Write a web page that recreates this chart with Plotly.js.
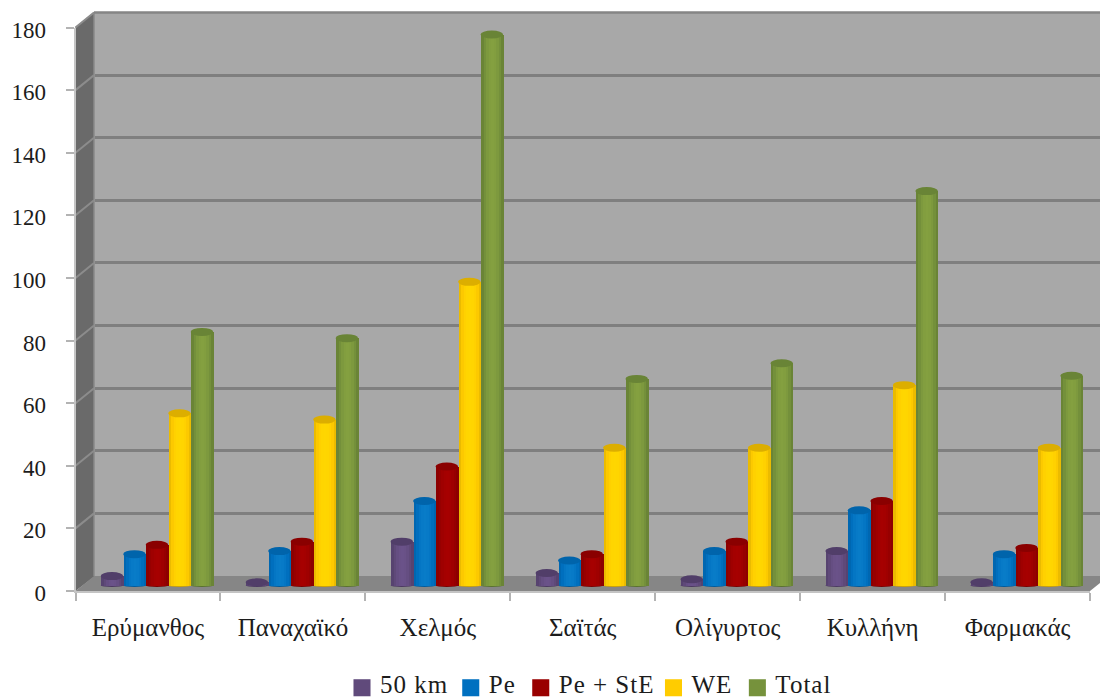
<!DOCTYPE html>
<html>
<head>
<meta charset="utf-8">
<script src="https://cdn.plot.ly/plotly-3.0.1.min.js"></script>
<style>
  html, body { margin: 0; padding: 0; background: #fff; }
  #chart { width: 1100px; height: 697px; }
  .legend .legendpoints path { transform: translate(22px, 5px) scale(1.42); }
  .legend text { letter-spacing: 1px; }
</style>
</head>
<body>
<div id="chart"></div>
<script>
// Mountains and the per-category counts
const mountains = ['Ερύμανθος', 'Παναχαϊκό', 'Χελμός', 'Σαϊτάς', 'Ολίγυρτος', 'Κυλλήνη', 'Φαρμακάς'];
const km50    = [3, 1, 14, 4, 2, 11, 1];
const pe      = [10, 11, 27, 8, 11, 24, 10];
const peSte   = [13, 14, 38, 10, 14, 27, 12];
const we      = [55, 53, 97, 44, 44, 64, 44];
const total   = [81, 79, 176, 66, 71, 126, 67];
const tickValues = [0, 20, 40, 60, 80, 100, 120, 140, 160, 180];

const seriesNames = ['50 km', 'Pe', 'Pe + StE', 'WE', 'Total'];
const seriesValues = [km50, pe, peSte, we, total];
const baseColors = ['#604a7b', '#0070c0', '#990000', '#ffcc00', '#76923c'];
const edgeColors = ['#4c3a62', '#005c9e', '#7c0000', '#d0a400', '#5a722e'];
const lightColors = ['#6a5289', '#087cc8', '#a60000', '#ffd600', '#84a040'];
const capColors = ['#513e69', '#0064ab', '#8a0000', '#dcae00', '#698436'];

const W = 1100, H = 697;
const px = v => v / W;
const py = v => 1 - v / H;
const UNIT = 563.5 / 180;          // pixels per count on the value axes
const FLOOR_Y = 591, DEPTH_X = 19, DEPTH_Y = 15;
const LEFT = 75.5, RIGHT = 1090;
const BAND = (RIGHT - LEFT) / mountains.length;
const BAR_W = 22.5 / BAND;
const CAP_RY = 4 / UNIT, FOOT_RY = 1.4 / UNIT;
const STRIPS = 9;

function mix(a, b, t) {
  const ch = (c, i) => parseInt(c.substr(1 + i * 2, 2), 16);
  const out = [0, 1, 2].map(i => Math.round(ch(a, i) + (ch(b, i) - ch(a, i)) * t));
  return `rgb(${out.join(',')})`;
}

const traces = [];
// Front axes carry the ticks and labels only
traces.push({ type: 'bar', x: mountains, y: total, xaxis: 'x', yaxis: 'y',
  marker: { opacity: 0 }, showlegend: false, hoverinfo: 'skip' });
// Keeps the back-wall axes alive for their gridlines
traces.push({ type: 'scatter', mode: 'none', x: [0, 1], y: [0, 180], xaxis: 'x2', yaxis: 'y2',
  showlegend: false, hoverinfo: 'skip' });

const shapes = [];
const wall = (d, fill) => ({ type: 'path', xref: 'paper', yref: 'paper', layer: 'below',
  path: d, fillcolor: fill, line: { width: 0 } });
const pts = list => 'M' + list.map(p => `${px(p[0])},${py(p[1])}`).join('L') + 'Z';
const seg = (x0, y0, x1, y1, color, width) => ({ type: 'line', xref: 'paper', yref: 'paper', layer: 'below',
  x0: px(x0), y0: py(y0), x1: px(x1), y1: py(y1), line: { color, width } });

// Box walls: back, left side, floor
shapes.push(wall(pts([[94, 12], [1100, 12], [1100, 577], [94, 577]]), '#a8a8a8'));
shapes.push(wall(pts([[75.5, 27], [94, 12], [94, 577], [75.5, 591]]), '#6a6a6a'));
shapes.push(wall(pts([[75.5, 591], [94, 576], [1100, 576], [1100, 583], [1090, 591]]), '#868686'));
shapes.push(seg(94, 12, 94, 576, '#8a8a8a', 1.5));
shapes.push(seg(94, 12.5, 1100, 12.5, '#858585', 2.5));
tickValues.slice(1).forEach(v => {
  const y = FLOOR_Y - v * UNIT;
  shapes.push(seg(LEFT, y, 94, y - DEPTH_Y, '#8c8c8c', 2));
});

seriesValues.forEach((vals, s) => {
  const centre = -2 * BAR_W + s * BAR_W;
  // Solid column, also the legend entry
  traces.push({ type: 'bar', name: seriesNames[s], x: mountains, y: vals, xaxis: 'x3', yaxis: 'y3',
    width: BAR_W, offset: centre - BAR_W / 2, marker: { color: baseColors[s], line: { width: 0 } },
    hovertemplate: '%{x}<br>' + seriesNames[s] + ': %{y}<extra></extra>' });
  // Narrow vertical strips give the round shading
  for (let k = 0; k < STRIPS; k++) {
    const t = (k + 0.5) / STRIPS * 2 - 1;        // -1..1 across the column
    const shade = Math.sqrt(1 - t * t);
    const sw = BAR_W / STRIPS;
    const colour = shade > 0.8 ? mix(baseColors[s], lightColors[s], (shade - 0.8) / 0.2)
                               : mix(edgeColors[s], baseColors[s], shade / 0.8);
    traces.push({ type: 'bar', x: mountains, y: vals, xaxis: 'x3', yaxis: 'y3', showlegend: false, hoverinfo: 'skip',
      width: sw * 1.02, offset: centre - BAR_W / 2 + sw * k, marker: { color: colour, line: { width: 0 } } });
  }
  vals.forEach((v, i) => {
    const xc = i + centre;
    // Rounded foot under the column
    shapes.push({ type: 'circle', xref: 'x3', yref: 'y3', layer: 'below',
      x0: xc - BAR_W / 2, x1: xc + BAR_W / 2, y0: -FOOT_RY, y1: FOOT_RY,
      fillcolor: edgeColors[s], line: { width: 0 } });
    // Elliptical lid on top
    shapes.push({ type: 'circle', xref: 'x3', yref: 'y3', layer: 'above',
      x0: xc - BAR_W / 2, x1: xc + BAR_W / 2, y0: v - CAP_RY, y1: v + CAP_RY,
      fillcolor: capColors[s], line: { width: 0 } });
  });
});

const tickFont = { family: '"Liberation Serif", serif', size: 23, color: '#1c1c1c' };
const catFont = { family: '"Liberation Serif", serif', size: 25, color: '#1c1c1c' };
const legendFont = { family: '"Liberation Serif", serif', size: 25, color: '#1c1c1c' };

const layout = {
  width: W, height: H,
  margin: { l: 0, r: 0, t: 0, b: 0, autoexpand: false },
  paper_bgcolor: '#ffffff', plot_bgcolor: 'rgba(0,0,0,0)',
  barmode: 'overlay', bargap: 0, showlegend: true,
  font: catFont,
  xaxis: { type: 'category', domain: [px(LEFT), px(RIGHT)], range: [-0.5, 6.5], anchor: 'y',
    tickson: 'boundaries', ticks: 'outside', ticklen: 8, tickwidth: 2, tickcolor: '#b3b3b3',
    showline: true, linecolor: '#c4c4c4', linewidth: 2, showgrid: false, zeroline: false,
    tickfont: catFont, ticklabelstandoff: 13, fixedrange: true },
  yaxis: { domain: [py(FLOOR_Y), py(FLOOR_Y - 180 * UNIT)], range: [0, 180], anchor: 'x',
    tickmode: 'array', tickvals: tickValues, ticktext: tickValues.map(String),
    ticks: 'outside', ticklen: 8, tickwidth: 2, tickcolor: '#b3b3b3',
    showline: true, linecolor: '#c4c4c4', linewidth: 2, showgrid: false, zeroline: false,
    tickfont: tickFont, ticklabelstandoff: 15, ticklabelshift: 2, fixedrange: true },
  // Back wall gridlines, pushed up and to the right by the box depth
  xaxis2: { domain: [px(LEFT + DEPTH_X), 1], range: [0, 1], anchor: 'y2', showgrid: false, zeroline: false,
    showticklabels: false, ticks: '', showline: false, fixedrange: true },
  yaxis2: { domain: [py(FLOOR_Y - DEPTH_Y), py(FLOOR_Y - DEPTH_Y - 180 * UNIT)], range: [0, 180], anchor: 'x2',
    tickmode: 'array', tickvals: tickValues, showgrid: true, gridcolor: '#7f7f7f', gridwidth: 2.5, zeroline: false,
    showticklabels: false, ticks: '', showline: false, fixedrange: true },
  // Columns stand in the middle of the floor depth
  xaxis3: { type: 'category', domain: [px(LEFT + 9), px(RIGHT + 9)], range: [-0.5, 6.5], anchor: 'y3',
    visible: false, fixedrange: true },
  yaxis3: { domain: [py(585.5 + 5 * UNIT), py(585.5 - 180 * UNIT)], range: [-5, 180], anchor: 'x3',
    visible: false, fixedrange: true },
  legend: { orientation: 'h', x: 586 / W, xanchor: 'center', y: py(683), yanchor: 'middle',
    font: legendFont, bgcolor: 'rgba(0,0,0,0)', itemclick: false, itemdoubleclick: false },
  shapes
};

Plotly.newPlot('chart', traces, layout, { displayModeBar: false });
</script>
</body>
</html>
